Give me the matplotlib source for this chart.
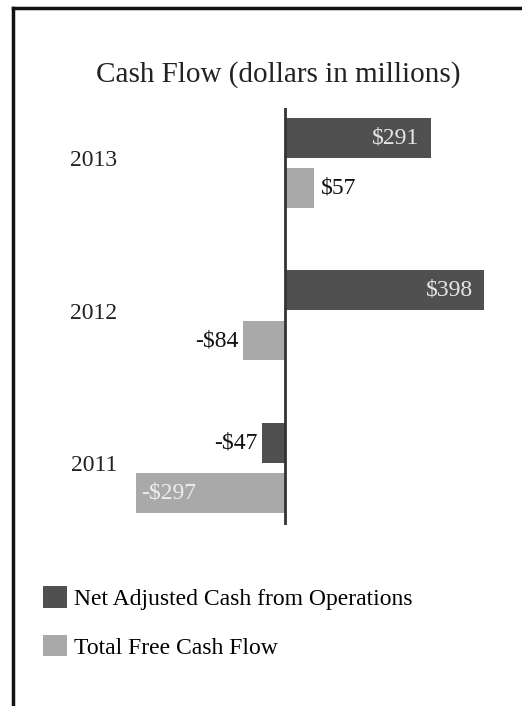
import matplotlib
matplotlib.use("Agg")
import matplotlib.pyplot as plt
from matplotlib.lines import Line2D
import numpy as np

years = ["2011", "2012", "2013"]
net_adjusted_cash = [-47, 398, 291]
total_free_cash = [-297, -84, 57]
series_names = ["Net Adjusted Cash from Operations", "Total Free Cash Flow"]
title = "Cash Flow (dollars in millions)"

dark = "#505050"
light = "#a9a9a9"

plt.rcParams['font.family'] = ['Liberation Serif', 'DejaVu Serif']

fig = plt.figure(figsize=(5.22, 7.06), dpi=100)
W, H = 522, 706
# axes: x pixels 135..500, y pixels 108..525
ax = fig.add_axes([135 / W, 1 - 525 / H, 365 / W, 417 / H])

y = np.arange(len(years))
off = 0.165
h = 0.26
b1 = ax.barh(y + off, net_adjusted_cash, height=h, color=dark, label=series_names[0])
b2 = ax.barh(y - off, total_free_cash, height=h, color=light, label=series_names[1])

ax.set_xlim(-300, 430)
ax.set_ylim(-0.374, 2.36)
ax.axvline(0, color="#333333", lw=2)

for s in ax.spines.values():
    s.set_visible(False)
ax.set_xticks([])
ax.set_yticks(y + 0.03)
ax.set_yticklabels(years, fontsize=17, color="#222222")
ax.tick_params(axis='y', length=0, pad=13)


def fmt(v):
    return ("-$%d" % abs(v)) if v < 0 else ("$%d" % v)


fs = 17
for vals, yoff, color_in in [(net_adjusted_cash, off, "#e6e6e6"), (total_free_cash, -off, "#eeeeee")]:
    for i, v in enumerate(vals):
        yy = y[i] + yoff
        if abs(v) >= 200:
            if v > 0:
                ax.annotate(fmt(v), (v, yy), xytext=(-8, 0), textcoords="offset points",
                            ha="right", va="center", fontsize=fs, color=color_in)
            else:
                ax.annotate(fmt(v), (v, yy), xytext=(3, 0), textcoords="offset points",
                            ha="left", va="center", fontsize=fs, color=color_in)
        else:
            if v > 0:
                ax.annotate(fmt(v), (v, yy), xytext=(5, 0), textcoords="offset points",
                            ha="left", va="center", fontsize=fs, color="#111111")
            else:
                ax.annotate(fmt(v), (v, yy), xytext=(-3, 0), textcoords="offset points",
                            ha="right", va="center", fontsize=fs, color="#111111")

fig.text(278 / W, 1 - 75 / H, title, ha="center", va="center", fontsize=21, color="#222222")

fig.legend(handles=[b1, b2], labels=series_names, loc="upper left",
           bbox_to_anchor=(34 / W, 1 - 577 / H), frameon=False, fontsize=17,
           handlelength=1.0, handleheight=1.0, handletextpad=0.3, labelspacing=1.05,
           borderaxespad=0)

# frame lines (top and left)
fig.add_artist(Line2D([13 / W, 1.0], [1 - 8 / H, 1 - 8 / H], transform=fig.transFigure,
                      color="#111111", lw=2.5))
fig.add_artist(Line2D([13 / W, 13 / W], [0, 1 - 8 / H], transform=fig.transFigure,
                      color="#111111", lw=2.5))

fig.savefig("out.png", dpi=100)
